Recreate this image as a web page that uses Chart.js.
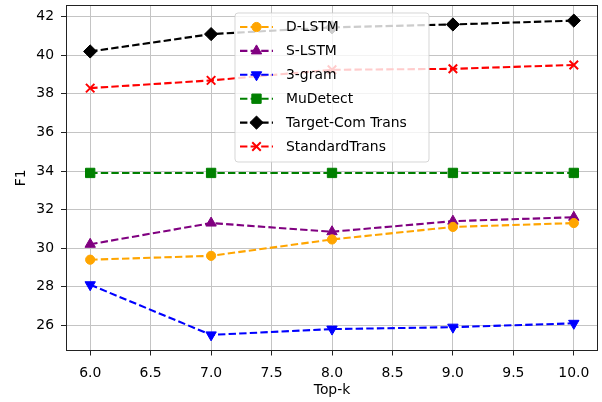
<!DOCTYPE html>
<html><head><meta charset="utf-8">
<script src="https://cdn.jsdelivr.net/npm/chart.js@4"></script>
<style>html,body{margin:0;padding:0;background:#fff}#wrap{width:602px;height:402px}</style>
</head><body><div id="wrap"><canvas id="c" width="602" height="402"></canvas></div>
<script>
const topK = [6, 7, 8, 9, 10];
const dLSTM = [29.4, 29.6, 30.45, 31.1, 31.3];
const sLSTM = [30.2, 31.3, 30.85, 31.4, 31.6];
const trigram = [28.1, 25.5, 25.8, 25.9, 26.1];
const muDetect = [33.9, 33.9, 33.9, 33.9, 33.9];
const targetCom = [40.2, 41.1, 41.45, 41.6, 41.8];
const standardTrans = [38.3, 38.7, 39.25, 39.3, 39.5];
const xTicks = [6.0, 6.5, 7.0, 7.5, 8.0, 8.5, 9.0, 9.5, 10.0];
const yTicks = [26, 28, 30, 32, 34, 36, 38, 40, 42];
const seriesNames = ['D-LSTM', 'S-LSTM', '3-gram', 'MuDetect', 'Target-Com Trans', 'StandardTrans'];

const FONT = 'DejaVu Sans';
const FS = 13.9;
Chart.defaults.font.family = FONT;
Chart.defaults.font.size = FS;
Chart.defaults.color = '#000';

const DASH = [7.4, 3.2];
function pts(arr){ return topK.map((x,i)=>({x:x, y:arr[i]})); }
function ds(label, arr, color, style, radius, rot, bw){
  return {label, data: pts(arr), borderColor: color, backgroundColor: color,
    pointBackgroundColor: color, pointBorderColor: color, borderWidth: 2.1,
    borderDash: DASH, pointStyle: style, pointRadius: radius, pointHoverRadius: radius,
    pointRotation: rot, pointBorderWidth: bw, tension: 0, fill: false};
}
const datasets = [
  ds(seriesNames[0], dLSTM, '#FFA500', 'circle', 4.6, 0, 1),
  ds(seriesNames[1], sLSTM, '#800080', 'triangle', 6, 0, 1),
  ds(seriesNames[2], trigram, '#0000FF', 'triangle', 6, 180, 1),
  ds(seriesNames[3], muDetect, '#008000', 'rect', 6.6, 0, 1),
  ds(seriesNames[4], targetCom, '#000000', 'rectRot', 6.6, 0, 1),
  ds(seriesNames[5], standardTrans, '#FF0000', 'crossRot', 6, 0, 2),
];

const boxPlugin = {
  id: 'boxAndLegend',
  afterDatasetsDraw(chart){
    const ctx = chart.ctx, a = chart.chartArea;
    ctx.save();
    ctx.strokeStyle = '#222';
    ctx.lineWidth = 1;
    ctx.setLineDash([]);
    ctx.strokeRect(Math.round(a.left)+0.5, Math.round(a.top)+0.5, Math.round(a.right-a.left)-1, Math.round(a.bottom-a.top)-1);
    // legend
    const lx = 235, ly = 13, lw = 194, lh = 149, rr = 3;
    ctx.beginPath();
    ctx.moveTo(lx+rr, ly);
    ctx.arcTo(lx+lw, ly, lx+lw, ly+lh, rr);
    ctx.arcTo(lx+lw, ly+lh, lx, ly+lh, rr);
    ctx.arcTo(lx, ly+lh, lx, ly, rr);
    ctx.arcTo(lx, ly, lx+lw, ly, rr);
    ctx.closePath();
    ctx.fillStyle = 'rgba(255,255,255,0.8)';
    ctx.fill();
    ctx.strokeStyle = 'rgba(204,204,204,0.8)';
    ctx.lineWidth = 1;
    ctx.stroke();
    chart.data.datasets.forEach((d, i) => {
      const y = 27 + i * 23.9;
      ctx.save();
      ctx.strokeStyle = d.borderColor;
      ctx.lineWidth = d.borderWidth;
      ctx.setLineDash(d.borderDash);
      ctx.beginPath();
      ctx.moveTo(240, y); ctx.lineTo(273, y);
      ctx.stroke();
      ctx.setLineDash([]);
      ctx.fillStyle = d.pointBackgroundColor;
      ctx.strokeStyle = d.pointBorderColor;
      ctx.lineWidth = d.pointBorderWidth;
      if (Chart.helpers && Chart.helpers.drawPoint) {
        Chart.helpers.drawPoint(ctx, {pointStyle: d.pointStyle, radius: d.pointRadius, rotation: d.pointRotation, borderWidth: d.pointBorderWidth}, 256.5, y);
      } else {
        ctx.beginPath(); ctx.arc(256.5, y, d.pointRadius, 0, Math.PI*2); ctx.fill();
      }
      ctx.restore();
      ctx.fillStyle = '#000';
      ctx.font = FS + 'px "' + FONT + '"';
      ctx.textBaseline = 'middle';
      ctx.textAlign = 'left';
      ctx.fillText(d.label, 286, y + 0.5);
    });
    ctx.restore();
  }
};

new Chart(document.getElementById('c'), {
  type: 'line',
  data: { datasets },
  plugins: [boxPlugin],
  options: {
    responsive: false,
    animation: false,
    devicePixelRatio: 1,
    layout: { autoPadding: false, padding: { top: 5, right: 4, left: 0, bottom: 0 } },
    plugins: { legend: { display: false }, tooltip: { enabled: false } },
    scales: {
      x: {
        type: 'linear', min: 5.8, max: 10.2,
        afterBuildTicks(s){ s.ticks = xTicks.map(v => ({value: v})); },
        afterFit(s){ s.height = 51.5; s.paddingLeft = 0; s.paddingRight = 0; },
        ticks: { callback: v => Number(v).toFixed(1), padding: 10, maxRotation: 0, autoSkip: false, color: '#000' },
        grid: { color: '#c4c4c4', lineWidth: 1, tickColor: '#222', tickLength: 5, drawTicks: true },
        border: { display: false },
        title: { display: true, text: 'Top-k', color: '#000', padding: { top: 4, bottom: 3 } }
      },
      y: {
        type: 'linear', min: 24.69, max: 42.61,
        afterBuildTicks(s){ s.ticks = yTicks.map(v => ({value: v})); },
        afterFit(s){ s.width = 66; s.paddingTop = 0; s.paddingBottom = 0; },
        ticks: { callback: v => String(v), padding: 7, autoSkip: false, color: '#000' },
        grid: { color: '#c4c4c4', lineWidth: 1, tickColor: '#222', tickLength: 5, drawTicks: true },
        border: { display: false },
        title: { display: true, text: 'F1', color: '#000', padding: { top: 13, bottom: 4 } }
      }
    }
  }
});
</script>
</body></html>
